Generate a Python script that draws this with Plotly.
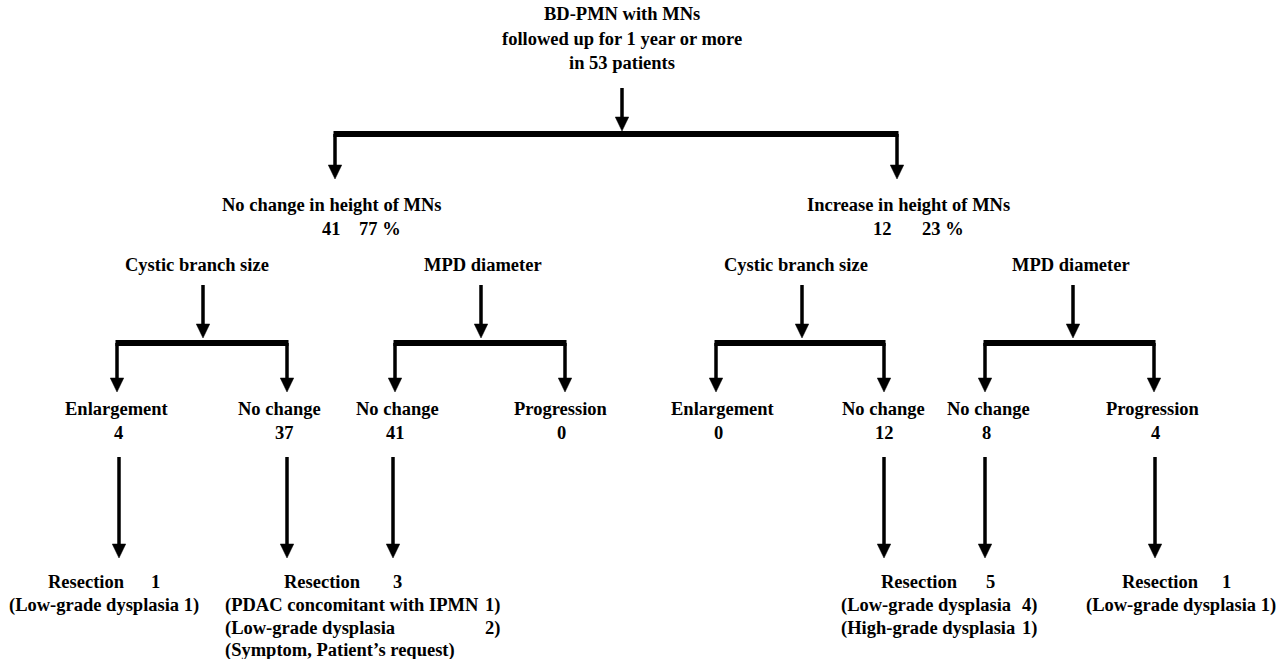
import plotly.graph_objects as go

# ---------------- data ----------------
ROOT_LINES = ["BD-PMN with MNs", "followed up for 1 year or more", "in 53 patients"]
HEIGHT_GROUPS = ["No change in height of MNs", "Increase in height of MNs"]
HEIGHT_COUNTS = [41, 12]
HEIGHT_PCTS = [77, 23]
CRITERIA = ["Cystic branch size", "MPD diameter"]
OUTCOMES = ["Enlargement", "No change", "No change", "Progression"]
COUNTS_NO_CHANGE = [4, 37, 41, 0]
COUNTS_INCREASE = [0, 12, 8, 4]
RESECTION_COUNTS = [1, 3, 5, 1]
RESECTION_DETAILS = [
    [("Low-grade dysplasia", 1)],
    [("PDAC concomitant with IPMN", 1), ("Low-grade dysplasia", 2)],
    [("Low-grade dysplasia", 4), ("High-grade dysplasia", 1)],
    [("Low-grade dysplasia", 1)],
]
EXTRA_NOTE = "(Symptom, Patient\u2019s request)"

# ---------------- layout (pixel positions) ----------------
W, H = 1286, 659
FONT = dict(family="Liberation Serif", size=18.5, color="black", weight="bold")
LINE_H = 23.5

ROOT_X, ROOT_Y = 622, 14
TOP_ARROW = (622, 88, 131)
TOP_BAR_Y = 134
L1_X = [335, 897]
L1_TIP = 179
L1_LABEL_X = [331, 908]
L1_LABEL_Y = 205
L1_NUM_X = [[331, 380], [882, 943]]

CRIT_X = [[197, 483], [796, 1071]]
CRIT_Y = 265
CRIT_ARROW_X = [[203, 481], [802, 1073]]
CRIT_ARROW_Y = (285, 338)
BAR_Y = 343
BAR_X = [[(117, 287), (395, 565)], [(716, 884), (985, 1154)]]
BAR_TIP = 392
OUT_LABEL_X = [[117, 279, 397, 561], [723, 883, 988, 1153]]
OUT_NUM_X = [[118, 284, 395, 561], [718, 884, 986, 1155]]
OUT_Y = 409
LONG_ARROW_X = [119, 287, 393, 884, 985, 1155]
LONG_ARROW_Y = (457, 558)

RES_Y = 582
RES_WORD_X = [86, 322, 919, 1160]
RES_NUM_X = [155, 397, 990, 1226]
DET_Y = 605
# detail layout: ("center", cx) or ("split", left_x, right_x)
DET_LAYOUT = [("center", 104), ("split", 223, 502), ("split", 839, 1039), ("center", 1181)]
NOTE_Y = 650

SHAFT_W = 3.5
BAR_W = 6
HEAD_W = 13.5
HEAD_H = 14

shapes = []
annotations = []


def text(s, x, y, anchor="center"):
    annotations.append(dict(x=x, y=y, xref="x", yref="y", text=s, showarrow=False,
                            xanchor=anchor, yanchor="middle", font=FONT))


def arrow(x, y0, tip):
    shapes.append(dict(type="line", x0=x, x1=x, y0=y0, y1=tip - HEAD_H + 1,
                       line=dict(color="black", width=SHAFT_W)))
    shapes.append(dict(type="path",
                       path=f"M {x - HEAD_W / 2},{tip - HEAD_H} L {x + HEAD_W / 2},{tip - HEAD_H} L {x},{tip} Z",
                       fillcolor="black", line=dict(color="black", width=0.5)))


def bar(x0, x1, y):
    shapes.append(dict(type="line", x0=x0 - 1.5, x1=x1 + 1.5, y0=y, y1=y,
                       line=dict(color="black", width=BAR_W)))


# root
for i, s in enumerate(ROOT_LINES):
    text(s, ROOT_X, ROOT_Y + i * 24.5)
arrow(*TOP_ARROW)
bar(L1_X[0], L1_X[1], TOP_BAR_Y)
for x in L1_X:
    arrow(x, TOP_BAR_Y, L1_TIP)

# level 1
for g in range(2):
    text(HEIGHT_GROUPS[g], L1_LABEL_X[g], L1_LABEL_Y)
    text(str(HEIGHT_COUNTS[g]), L1_NUM_X[g][0], L1_LABEL_Y + LINE_H)
    text(f"{HEIGHT_PCTS[g]} %", L1_NUM_X[g][1], L1_LABEL_Y + LINE_H)

# criteria and outcomes
outcome_counts = [COUNTS_NO_CHANGE, COUNTS_INCREASE]
for g in range(2):
    for c in range(2):
        text(CRITERIA[c], CRIT_X[g][c], CRIT_Y)
        arrow(CRIT_ARROW_X[g][c], CRIT_ARROW_Y[0], CRIT_ARROW_Y[1])
        x0, x1 = BAR_X[g][c]
        bar(x0, x1, BAR_Y)
        arrow(x0, BAR_Y, BAR_TIP)
        arrow(x1, BAR_Y, BAR_TIP)
    for k in range(4):
        text(OUTCOMES[k], OUT_LABEL_X[g][k], OUT_Y)
        text(str(outcome_counts[g][k]), OUT_NUM_X[g][k], OUT_Y + LINE_H)

for x in LONG_ARROW_X:
    arrow(x, LONG_ARROW_Y[0], LONG_ARROW_Y[1])

# resections
for r in range(4):
    text("Resection", RES_WORD_X[r], RES_Y)
    text(str(RESECTION_COUNTS[r]), RES_NUM_X[r], RES_Y)
    lay = DET_LAYOUT[r]
    for j, (name, n) in enumerate(RESECTION_DETAILS[r]):
        y = DET_Y + j * LINE_H
        if lay[0] == "center":
            text(f"({name} {n})", lay[1], y)
        else:
            text(f"({name}", lay[1], y, anchor="left")
            text(f"{n})", lay[2], y, anchor="right")
    if r == 1:
        text(EXTRA_NOTE, DET_LAYOUT[1][1], NOTE_Y, anchor="left")

fig = go.Figure()
fig.update_layout(
    width=W, height=H,
    margin=dict(l=0, r=0, t=0, b=0),
    paper_bgcolor="white", plot_bgcolor="white",
    xaxis=dict(range=[0, W], visible=False, fixedrange=True),
    yaxis=dict(range=[H, 0], visible=False, fixedrange=True),
    shapes=shapes, annotations=annotations, showlegend=False,
)
fig.write_html(
    "out.html",
    config={"displayModeBar": False, "staticPlot": True},
    post_script="document.body.style.margin='0px';document.body.style.overflow='hidden';",
)
